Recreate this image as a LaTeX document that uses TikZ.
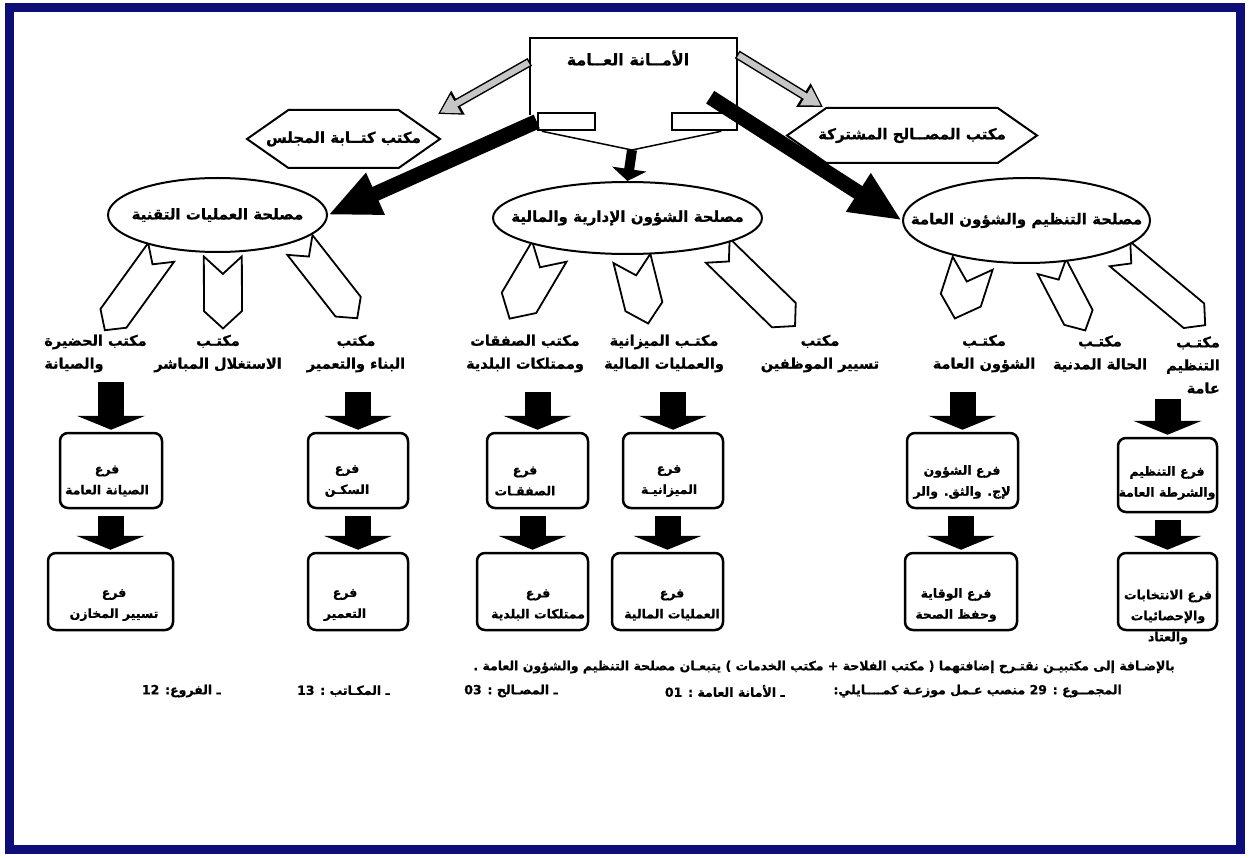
\documentclass[tikz,border=0pt]{standalone}
\usepackage{fontspec}
\newfontfamily\arabicfont[Script=Arabic, BoldFeatures={FakeBold=0.8}]{DejaVu Sans}
\TeXXeTstate=1
\usetikzlibrary{arrows.meta,shapes.symbols,shapes.geometric}
\definecolor{pageblue}{RGB}{14,14,120}
\pgfdeclarelayer{back}
\pgfsetlayers{back,main}

\begin{document}
\begin{tikzpicture}[x=1pt,y=-1pt,
    artext/.style={font=\arabicfont\bfseries\fontsize{14.5}{23}\selectfont, inner sep=0pt, align=center},
    bigtext/.style={font=\arabicfont\bfseries\fontsize{15}{17}\selectfont},
    brtext/.style={font=\arabicfont\bfseries\fontsize{12.5}{21}\selectfont, inner sep=0pt, align=center},
    smalltext/.style={font=\arabicfont\bfseries\fontsize{12.5}{14}\selectfont, inner sep=0pt},
    topbox/.style={minimum width=207pt, minimum height=77pt, inner sep=0pt},
    tab/.style={draw, line width=2.5pt, fill=white, minimum height=17pt, inner sep=0pt},
    hexbox/.style={draw, line width=2pt, fill=white, shape=signal, signal to=west and east, signal pointer angle=70, inner ysep=0pt, inner xsep=-60pt, bigtext},
    regbox/.style={draw, line width=2pt, fill=white, ellipse, inner ysep=0pt, inner xsep=-60pt, bigtext},
    chev/.style={draw, line width=1.8pt, fill=white, shape=signal, signal from=west, signal to=east, signal pointer angle=95, inner sep=0pt, sloped, allow upside down},
    brbox/.style={draw, line width=2.5pt, rounded corners=8pt, fill=white, inner sep=0pt},
    bigdown/.style={line width=26pt, shorten >=2pt, -{Triangle[width=68pt,length=14pt]}},
    bigslant/.style={line width=15pt, -{Triangle[width=42pt,length=52pt]}},
    grayout/.style={line width=9pt, -{Triangle[width=26pt,length=23pt]}},
    grayin/.style={gray!45, line width=6pt, shorten >=2.5pt, shorten <=1.5pt, -{Triangle[width=20pt,length=18pt]}}
  ]
\useasboundingbox (0,0) rectangle (1249,858);
\draw[pageblue, line width=9pt] (9,8) rectangle (1240,849);

% secretariat
\node[topbox] (top) at (633.5,76.5) {};
\draw[line width=2.5pt] (top.south west) |- (top.north east) -- (top.south east);
\node[artext, font=\arabicfont\bfseries\fontsize{16}{18}\selectfont] (toptext) at (628,58) {\beginR الأمــانة العــامة\endR};
\node[tab, minimum width=57pt] (tabL) at (566.5,121.5) {};
\node[tab, minimum width=65pt] (tabR) at (704.5,121.5) {};
\coordinate (join) at (632,150);
\draw[line width=1.5pt] ([xshift=5pt]tabL.south west) -- (join) -- ([xshift=-17pt]tabR.south east);

\node[hexbox, minimum width=193pt, minimum height=58pt] (hexL) at (343.5,139) {\beginR مكتب كتــابة المجلس\endR};
\node[hexbox, minimum width=250pt, minimum height=55pt] (hexR) at (912,135.5) {\beginR مكتب المصــالح المشتركة\endR};

\node[regbox, minimum width=219pt, minimum height=74pt] (regL) at (217.5,215) {\beginR مصلحة العمليات التقنية\endR};
\node[regbox, minimum width=269pt, minimum height=72pt] (regM) at (627.5,218) {\beginR مصلحة الشؤون الإدارية والمالية\endR};
\node[regbox, minimum width=247pt, minimum height=85pt] (regR) at (1026.5,220.5) {\beginR مصلحة التنظيم والشؤون العامة\endR};

% arrows from the secretariat
\coordinate (grayL) at (438,114);
\coordinate (grayR) at (823,107);
\draw[grayout] (top.172) -- (grayL);
\draw[grayin] (top.172) -- (grayL);
\draw[grayout] (top.12) -- (grayR);
\draw[grayin] (top.12) -- (grayR);
\draw[bigslant] (tabL.west) -- (regL.east);
\draw[bigslant] ([xshift=-27pt,yshift=18pt]top.south east) -- (regR.west);
\draw[line width=10pt, -{Triangle[width=34pt,length=12pt]}] (join) -- (regM.north);

% offices
\node[artext, align=left] (offA) at (95.5,353.5) {\beginR مكتب الحضيرة\endR\\\beginR والصيانة\endR};
\node[artext] (offB) at (218,353.5) {\beginR مكتـب\endR\\\beginR الاستغلال المباشر\endR};
\node[artext] (offC) at (356,353.5) {\beginR مكتب\endR\\\beginR البناء والتعمير\endR};
\node[artext] (offD) at (525,353.5) {\beginR مكتب الصفقات\endR\\\beginR وممتلكات البلدية\endR};
\node[artext] (offE) at (664,353.5) {\beginR مكتـب الميزانية\endR\\\beginR والعمليات المالية\endR};
\node[artext] (offF) at (820,353.5) {\beginR مكتب\endR\\\beginR تسيير الموظفين\endR};
\node[artext] (offG) at (984,353.5) {\beginR مكتـب\endR\\\beginR الشؤون العامة\endR};
\node[artext] (offH) at (1100,353.5) {\beginR مكتـب\endR\\\beginR الحالة المدنية\endR};
\node[artext, align=right] (offI) at (1193,365) {\beginR مكتـب\endR\\\beginR التنظيم\endR\\\beginR عامة\endR};

\coordinate (tipA) at (105,330);
\coordinate (tipB) at (223,328);
\coordinate (tipC) at (357,318);
\coordinate (tipD) at (510,318);
\coordinate (tipE) at (648,323);
\coordinate (tipF) at (795,326);
\coordinate (tipG) at (955,318);
\coordinate (tipH) at (1085,330);
\coordinate (tipI) at (1205,325);
\begin{pgfonlayer}{back}
\path ([yshift=-5pt]regL.-150) -- (tipA) node[chev, midway, minimum width=96pt, minimum height=32pt] (chA) {};
\path ([yshift=-4pt]regL.-82) -- (tipB) node[chev, midway, minimum width=72pt, minimum height=38pt] (chB) {};
\path ([yshift=-5pt]regL.-17) -- (tipC) node[chev, midway, minimum width=93pt, minimum height=32pt] (chC) {};
\path ([yshift=-4pt]regM.-159) -- (tipD) node[chev, midway, minimum width=78pt, minimum height=40pt] (chD) {};
\path ([yshift=-4pt]regM.-83) -- (tipE) node[chev, midway, minimum width=67pt, minimum height=38pt] (chE) {};
\path ([yshift=-5pt]regM.-17) -- (tipF) node[chev, midway, minimum width=108pt, minimum height=34pt] (chF) {};
\path ([yshift=-4pt]regR.-144) -- (tipG) node[chev, midway, minimum width=58pt, minimum height=42pt] (chG) {};
\path ([yshift=-4pt]regR.-59) -- (tipH) node[chev, midway, minimum width=72pt, minimum height=32pt] (chH) {};
\path ([yshift=-5pt]regR.-17) -- (tipI) node[chev, midway, minimum width=111pt, minimum height=32pt] (chI) {};
\end{pgfonlayer}

% branches
\node[brbox, minimum width=102pt, minimum height=75pt] (br1) at (111,470.5) {};
\node[brbox, minimum width=125pt, minimum height=77pt] (br2) at (110.5,591.5) {};
\node[brbox, minimum width=100pt, minimum height=75pt] (br3) at (358,470.5) {};
\node[brbox, minimum width=100pt, minimum height=77pt] (br4) at (358,591.5) {};
\node[brbox, minimum width=101pt, minimum height=75pt] (br5) at (537.5,470.5) {};
\node[brbox, minimum width=111pt, minimum height=77pt] (br7) at (532.5,591.5) {};
\node[brbox, minimum width=100pt, minimum height=75pt] (br6) at (673,470.5) {};
\node[brbox, minimum width=111pt, minimum height=77pt] (br8) at (667.5,591.5) {};
\node[brbox, minimum width=111pt, minimum height=75pt] (br9) at (962.5,470.5) {};
\node[brbox, minimum width=112pt, minimum height=77pt] (br11) at (961,591.5) {};
\node[brbox, minimum width=99pt, minimum height=74pt] (br10) at (1167.5,475) {};
\node[brbox, minimum width=99pt, minimum height=77pt] (br12) at (1167.5,591.5) {};

\node[brtext] (br1t) at (107,481) {\beginR فرع\endR\\\beginR الصيانة العامة\endR};
\node[brtext] (br2t) at (114,605) {\beginR فرع\endR\\\beginR تسيير المخازن\endR};
\node[brtext] (br3t) at (347,481) {\beginR فرع\endR\\\beginR السكـن\endR};
\node[brtext] (br4t) at (345,605) {\beginR فرع\endR\\\beginR التعمير\endR};
\node[brtext] (br5t) at (525,481) {\beginR فرع\endR\\\beginR الصفقـات\endR};
\node[brtext] (br7t) at (538,605) {\beginR فرع\endR\\\beginR ممتلكات البلدية\endR};
\node[brtext] (br6t) at (669,481) {\beginR فرع\endR\\\beginR الميزانيـة\endR};
\node[brtext] (br8t) at (672,605) {\beginR فرع\endR\\\beginR العمليات المالية\endR};
\node[brtext] (br9t) at (962,482) {\beginR فرع الشؤون\endR\\\beginR لإج. والثق. والر\endR};
\node[brtext] (br11t) at (956,605) {\beginR فرع الوقاية\endR\\\beginR وحفظ الصحة\endR};
\node[brtext] (br10t) at (1167,483) {\beginR فرع التنظيم\endR\\\beginR والشرطة العامة\endR};
\node[brtext] (br12t) at (1168,617) {\beginR فرع الانتخابات\endR\\\beginR والإحصائيات\endR\\\beginR والعتاد\endR};

\draw[bigdown] ([yshift=50pt]br1.north) -- (br1.north);
\draw[bigdown] ([yshift=40pt]br3.north) -- (br3.north);
\draw[bigdown] ([yshift=40pt]br5.north) -- (br5.north);
\draw[bigdown] ([yshift=40pt]br6.north) -- (br6.north);
\draw[bigdown] ([yshift=40pt]br9.north) -- (br9.north);
\draw[bigdown] ([yshift=38pt]br10.north) -- (br10.north);
\draw[bigdown, shorten <=7pt] (br1.south -| br2.north) -- (br2.north);
\draw[bigdown, shorten <=7pt] (br3.south -| br4.north) -- (br4.north);
\draw[bigdown, shorten <=7pt] (br5.south -| br7.north) -- (br7.north);
\draw[bigdown, shorten <=7pt] (br6.south -| br8.north) -- (br8.north);
\draw[bigdown, shorten <=7pt] (br9.south -| br11.north) -- (br11.north);
\draw[bigdown, shorten <=7pt] (br10.south -| br12.north) -- (br12.north);

% note and totals
\node[smalltext, anchor=east] (note) at (1175,667) {\beginR بالإضـافة إلى مكتبيـن نقتـرح إضافتهما ( مكتب الفلاحة + مكتب الخدمات ) يتبعـان مصلحة التنظيم والشؤون العامة .\endR};
\node[smalltext, anchor=east] (sum) at (1122,691) {\beginR المجمــوع : 29 منصب عـمل موزعـة كمــــايلي:\endR};
\node[smalltext, anchor=east] (sumA) at (785,691) {\beginR ـ الأمانة العامة : 01\endR};
\node[smalltext, anchor=east] (sumB) at (558,691) {\beginR ـ المصـالح : 03\endR};
\node[smalltext, anchor=east] (sumC) at (390,691) {\beginR ـ المكـاتب : 13\endR};
\node[smalltext, anchor=east] (sumD) at (221,691) {\beginR ـ الفروع: 12\endR};
\end{tikzpicture}
\end{document}
